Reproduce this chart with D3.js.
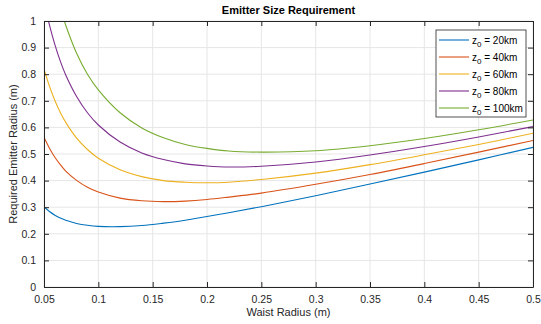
<!DOCTYPE html>
<meta charset="utf-8">
<script src="https://d3js.org/d3.v7.min.js"></script>
<style>
body { margin: 0; background: #fff; }
text { font-family: "Liberation Sans", Arial, Helvetica, sans-serif; }
</style>
<div id="my_dataviz"></div>
<script>
// waist radius samples (m)
var waist = [0.05, 0.055, 0.06, 0.065, 0.07, 0.08, 0.09, 0.1, 0.12, 0.14, 0.16, 0.18, 0.2, 0.22, 0.25, 0.3, 0.35, 0.4, 0.45, 0.5];

// required emitter radius (m) for each z0
var r20km  = [0.302, 0.284, 0.270, 0.259, 0.251, 0.239, 0.232, 0.228, 0.227, 0.231, 0.240, 0.251, 0.265, 0.279, 0.302, 0.343, 0.387, 0.432, 0.478, 0.525];
var r40km  = [0.563, 0.522, 0.488, 0.460, 0.436, 0.401, 0.375, 0.357, 0.334, 0.324, 0.321, 0.323, 0.329, 0.338, 0.353, 0.386, 0.423, 0.464, 0.507, 0.551];
var r60km  = [0.820, 0.755, 0.701, 0.656, 0.619, 0.560, 0.517, 0.484, 0.441, 0.415, 0.400, 0.394, 0.392, 0.394, 0.404, 0.428, 0.460, 0.497, 0.536, 0.578];
var r80km  = [1.075, 0.985, 0.911, 0.849, 0.797, 0.716, 0.655, 0.609, 0.545, 0.504, 0.479, 0.463, 0.455, 0.451, 0.454, 0.470, 0.496, 0.528, 0.564, 0.603];
var r100km = [1.330, 1.218, 1.126, 1.049, 0.984, 0.879, 0.800, 0.741, 0.655, 0.598, 0.561, 0.536, 0.521, 0.511, 0.507, 0.512, 0.531, 0.558, 0.591, 0.628];

var seriesNames = ["20km", "40km", "60km", "80km", "100km"];
var seriesValues = [r20km, r40km, r60km, r80km, r100km];
var colors = ["#0072BD", "#D95319", "#EDB120", "#7E2F8E", "#77AC30"];

var xTicks = [0.05, 0.1, 0.15, 0.2, 0.25, 0.3, 0.35, 0.4, 0.45, 0.5];
var yTicks = [0, 0.1, 0.2, 0.3, 0.4, 0.5, 0.6, 0.7, 0.8, 0.9, 1];

var W = 541, H = 324;
var margin = {top: 21, right: 8, bottom: 37, left: 44},
    width = W - margin.left - margin.right,
    height = H - margin.top - margin.bottom;

var axisColor = "#262626";

var root = d3.select("#my_dataviz")
  .append("svg")
    .attr("width", W)
    .attr("height", H);

var svg = root.append("g")
    .attr("transform", "translate(" + margin.left + "," + margin.top + ")");

var x = d3.scaleLinear().domain([0.05, 0.5]).range([0, width]);
var y = d3.scaleLinear().domain([0, 1]).range([height, 0]);

// grid
svg.append("g")
  .selectAll("line")
  .data(xTicks)
  .enter().append("line")
    .attr("x1", function(d) { return x(d); })
    .attr("x2", function(d) { return x(d); })
    .attr("y1", 0).attr("y2", height)
    .attr("stroke", "#e6e6e6").attr("stroke-width", 1);
svg.append("g")
  .selectAll("line")
  .data(yTicks)
  .enter().append("line")
    .attr("y1", function(d) { return y(d); })
    .attr("y2", function(d) { return y(d); })
    .attr("x1", 0).attr("x2", width)
    .attr("stroke", "#e6e6e6").attr("stroke-width", 1);

// curves, clipped to the axes box
svg.append("clipPath").attr("id", "clip")
  .append("rect").attr("width", width).attr("height", height);

var line = d3.line()
  .x(function(d) { return x(d[0]); })
  .y(function(d) { return y(d[1]); })
  .curve(d3.curveCatmullRom.alpha(0.5));

svg.append("g")
  .attr("clip-path", "url(#clip)")
  .selectAll("path")
  .data(seriesValues)
  .enter().append("path")
    .attr("d", function(vals) { return line(vals.map(function(v, i) { return [waist[i], v]; })); })
    .attr("fill", "none")
    .attr("stroke", function(d, i) { return colors[i]; })
    .attr("stroke-width", 1.1);

// axes (ticks inward, box on)
function styleAxis(g) {
  g.select(".domain").attr("stroke", axisColor);
  g.selectAll(".tick line").attr("stroke", axisColor);
  g.selectAll(".tick text").attr("fill", axisColor).style("font-size", "10.5px");
}

svg.append("g")
  .attr("transform", "translate(0," + height + ")")
  .call(d3.axisBottom(x).tickValues(xTicks).tickSizeInner(-5).tickSizeOuter(0).tickPadding(9)
        .tickFormat(function(d) { return d3.format("~g")(d); }))
  .call(styleAxis);

svg.append("g")
  .call(d3.axisLeft(y).tickValues(yTicks).tickSizeInner(-5).tickSizeOuter(0).tickPadding(8)
        .tickFormat(function(d) { return d3.format("~g")(d); }))
  .call(styleAxis);

svg.append("g")
  .call(d3.axisTop(x).tickValues(xTicks).tickSizeInner(-5).tickSizeOuter(0).tickFormat(""))
  .call(styleAxis);

svg.append("g")
  .attr("transform", "translate(" + width + ",0)")
  .call(d3.axisRight(y).tickValues(yTicks).tickSizeInner(-5).tickSizeOuter(0).tickFormat(""))
  .call(styleAxis);

// labels
root.append("text")
  .attr("x", margin.left + width / 2).attr("y", 14)
  .attr("text-anchor", "middle")
  .style("font-size", "11px").style("font-weight", "bold")
  .attr("fill", "#000")
  .text("Emitter Size Requirement");

root.append("text")
  .attr("x", margin.left + width / 2).attr("y", 316)
  .attr("text-anchor", "middle")
  .style("font-size", "11px")
  .attr("fill", axisColor)
  .text("Waist Radius (m)");

root.append("text")
  .attr("transform", "translate(17," + (margin.top + height / 2) + ") rotate(-90)")
  .attr("text-anchor", "middle")
  .style("font-size", "11px")
  .attr("fill", axisColor)
  .text("Required Emitter Radius (m)");

// legend
var legend = root.append("g").attr("transform", "translate(436,30)");
legend.append("rect")
  .attr("width", 90).attr("height", 87)
  .attr("fill", "#fff").attr("stroke", axisColor).attr("stroke-width", 0.8);

var items = legend.selectAll("g.item")
  .data(seriesNames)
  .enter().append("g")
    .attr("class", "item")
    .attr("transform", function(d, i) { return "translate(0," + (10 + i * 17) + ")"; });

items.append("line")
  .attr("x1", 3).attr("x2", 33)
  .attr("stroke", function(d, i) { return colors[i]; })
  .attr("stroke-width", 1.1);

var lt = items.append("text")
  .attr("x", 36).attr("y", 3.5)
  .style("font-size", "10px")
  .attr("fill", "#000");
lt.append("tspan").text("z");
lt.append("tspan").attr("dy", 3).style("font-size", "8px").text("0");
lt.append("tspan").attr("dy", -3).text(function(d) { return " = " + d; });
</script>
